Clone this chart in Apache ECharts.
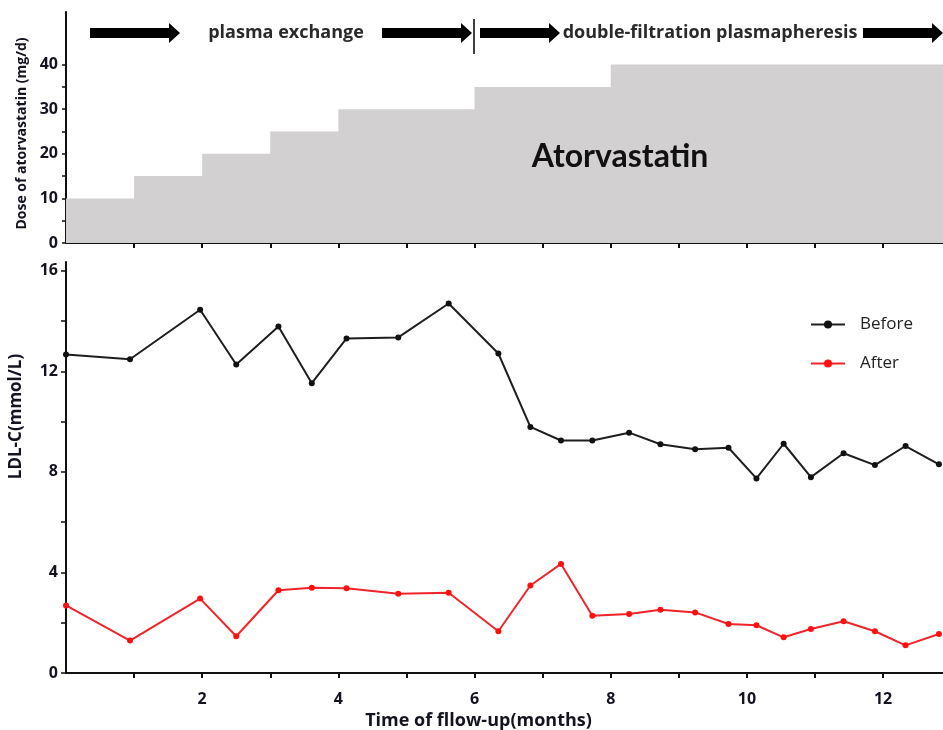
<!DOCTYPE html>
<html><head><meta charset="utf-8">
<script src="https://cdn.jsdelivr.net/npm/echarts/dist/echarts.min.js"></script>
<style>html,body{margin:0;padding:0;background:#fff}#c{width:943px;height:730px}</style>
</head><body><div id="c"></div>
<script>
// ---- data ----
const months = [0, 0.94, 1.97, 2.5, 3.12, 3.61, 4.12, 4.88, 5.62, 6.35, 6.82, 7.27, 7.73, 8.27, 8.73, 9.24, 9.73, 10.14, 10.54, 10.94, 11.42, 11.88, 12.33, 12.82];
const before = [12.67, 12.48, 14.45, 12.27, 13.78, 11.53, 13.31, 13.35, 14.70, 12.71, 9.79, 9.25, 9.25, 9.56, 9.10, 8.90, 8.96, 7.74, 9.12, 7.79, 8.74, 8.27, 9.03, 8.30];
const after = [2.69, 1.29, 2.96, 1.46, 3.29, 3.39, 3.37, 3.15, 3.19, 1.66, 3.48, 4.34, 2.28, 2.35, 2.52, 2.41, 1.95, 1.90, 1.42, 1.75, 2.06, 1.66, 1.10, 1.55];
const doseMonths = [0, 1, 2, 3, 4, 6, 8, 12.88];
const doseValues = [10, 15, 20, 25, 30, 35, 40, 40];
const xTickValues = [1, 2, 3, 4, 5, 6, 7, 8, 9, 10, 11, 12];
const xLabelValues = [2, 4, 6, 8, 10, 12];
const ldlTickValues = [0, 2, 4, 6, 8, 10, 12, 14, 16];
const ldlLabelValues = [0, 4, 8, 12, 16];
const doseTickValues = [0, 5, 10, 15, 20, 25, 30, 35, 40];
const doseLabelValues = [0, 10, 20, 30, 40];
const phase1 = 'plasma exchange';
const phase2 = 'double-filtration plasmapheresis';
const drugName = 'Atorvastatin';

const FONT = '"Open Sans"';
const axisLine = {show: true, lineStyle: {color: '#111', width: 2}};
const labelStyle = {color: '#141420', fontSize: 16, fontWeight: 'bold', fontFamily: FONT};

function arrow(x1, x2, y) {
  const h = 5, H = 10, head = 11;
  return {type: 'polygon', z: 100, shape: {points: [[x1, y - h], [x2 - head, y - h], [x2 - head, y - H], [x2, y], [x2 - head, y + H], [x2 - head, y + h], [x1, y + h]]},
    style: {fill: '#000'}};
}

const chart = echarts.init(document.getElementById('c'), null, {renderer: 'canvas'});
chart.setOption({
  animation: false,
  grid: [
    {left: 66, right: 0, top: 12, height: 231, outerBoundsMode: 'none', containLabel: false},
    {left: 66, right: 0, top: 262, height: 411, outerBoundsMode: 'none', containLabel: false}
  ],
  xAxis: [
    {type: 'value', gridIndex: 0, min: 0, max: 12.88, axisLine,
      axisTick: {show: true, customValues: xTickValues, length: 5, lineStyle: {color: '#111', width: 2}},
      axisLabel: {show: false}, splitLine: {show: false}},
    {type: 'value', gridIndex: 1, min: 0, max: 12.88, axisLine,
      axisTick: {show: true, customValues: xTickValues, length: 5, lineStyle: {color: '#111', width: 2}},
      axisLabel: Object.assign({customValues: xLabelValues, margin: 18}, labelStyle),
      splitLine: {show: false},
      name: 'Time of fllow-up(months)', nameLocation: 'middle', nameGap: 35,
      nameTextStyle: {color: '#141420', fontSize: 18, fontWeight: 'bold', fontFamily: FONT, padding: [0, 52, 0, 0]}}
  ],
  yAxis: [
    {type: 'value', gridIndex: 0, min: 0, max: 51.8, axisLine,
      axisTick: {show: true, customValues: doseTickValues, length: 4, lineStyle: {color: '#111', width: 1.5}},
      axisLabel: Object.assign({customValues: doseLabelValues, margin: 8}, labelStyle),
      splitLine: {show: false},
      name: 'Dose of atorvastatin (mg/d)', nameLocation: 'middle', nameGap: 34,
      nameTextStyle: {color: '#141420', fontSize: 14, fontWeight: 'bold', fontFamily: FONT, padding: [0, 12, 0, 0]}},
    {type: 'value', gridIndex: 1, min: 0, max: 16.35, axisLine,
      axisTick: {show: true, customValues: ldlTickValues, length: 5, lineStyle: {color: '#111', width: 1.5}},
      axisLabel: Object.assign({customValues: ldlLabelValues, margin: 8}, labelStyle),
      splitLine: {show: false},
      name: 'LDL-C(mmol/L)', nameLocation: 'middle', nameGap: 41,
      nameTextStyle: {color: '#141420', fontSize: 17, fontWeight: 'bold', fontFamily: FONT, padding: [0, 0, 0, 102]}}
  ],
  legend: {
    data: ['Before', 'After'], orient: 'vertical', left: 805, top: 311,
    itemWidth: 34, itemHeight: 10, itemGap: 22,
    textStyle: {fontSize: 17, color: '#222', fontFamily: FONT, padding: [0, 0, 0, 10]}
  },
  series: [
    {name: 'Atorvastatin dose', type: 'line', xAxisIndex: 0, yAxisIndex: 0, step: 'end', symbol: 'none',
      data: doseMonths.map((m, i) => [m, doseValues[i]]),
      lineStyle: {width: 0}, areaStyle: {color: '#d2d0d1', opacity: 1}, silent: true, z: 1},
    {name: 'Before', type: 'line', xAxisIndex: 1, yAxisIndex: 1, symbol: 'circle', symbolSize: 6,
      data: months.map((m, i) => [m, before[i]]),
      lineStyle: {color: '#1e1e1e', width: 2}, itemStyle: {color: '#111'}},
    {name: 'After', type: 'line', xAxisIndex: 1, yAxisIndex: 1, symbol: 'circle', symbolSize: 6,
      data: months.map((m, i) => [m, after[i]]),
      lineStyle: {color: '#f0242b', width: 2}, itemStyle: {color: '#ff1010'}}
  ],
  graphic: [
    arrow(90, 180, 33),
    arrow(382, 472, 33),
    arrow(480, 560, 33),
    arrow(863, 943, 33),
    {type: 'line', z: 100, shape: {x1: 474, y1: 19, x2: 474, y2: 54}, style: {stroke: '#000', lineWidth: 1.5}},
    {type: 'text', z: 100, x: 286, y: 33, style: {text: phase1, fill: '#2a2a2a', font: 'bold 18px ' + FONT, textAlign: 'center', textVerticalAlign: 'middle'}},
    {type: 'text', z: 100, x: 710, y: 33, style: {text: phase2, fill: '#2a2a2a', font: 'bold 18px ' + FONT, textAlign: 'center', textVerticalAlign: 'middle'}},
    {type: 'text', z: 100, x: 620, y: 157, style: {text: drugName, fill: '#111', font: 'bold 32px Lato', textAlign: 'center', textVerticalAlign: 'middle'}}
  ]
});
</script>
</body></html>
